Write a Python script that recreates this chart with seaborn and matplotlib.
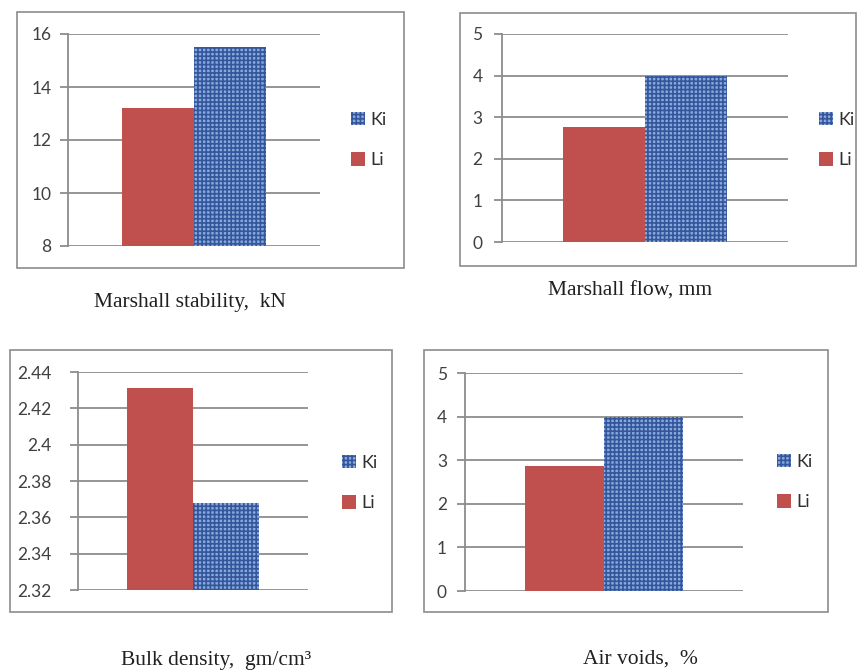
import pandas as pd
import matplotlib.pyplot as plt
import matplotlib.patches as mpatches
import seaborn as sns

sns.set_style("white")
plt.rcParams['font.family'] = ['Lato', 'DejaVu Sans']
plt.rcParams['hatch.linewidth'] = 1.2
plt.rcParams['hatch.color'] = '#34569a'

# data
mixes = ["Li", "Ki"]
stability = [13.2, 15.5]
flow = [2.76, 4.0]
density = [2.431, 2.368]
voids = [2.87, 4.0]

captions = ["Marshall stability,  kN", "Marshall flow, mm",
            "Bulk density,  gm/cm³", "Air voids,  %"]

RED = '#c0504d'
BLUE = '#8aa9de'
HATCH = '++++'

W, H = 857, 670
fig = plt.figure(figsize=(W / 100, H / 100), dpi=100)


def px_box(x0, y0, x1, y1):
    # pixel box (top-left origin) -> figure fraction rect
    return [x0 / W, 1 - y1 / H, (x1 - x0) / W, (y1 - y0) / H]


panels = [
    # axes box, frame box, values, ylim, ticks, tick labels, label pad, legend pos, caption pos
    (px_box(68, 34, 320, 246), (17, 12, 404, 268), stability, (8, 16), [8, 10, 12, 14, 16],
     ["8", "10", "12", "14", "16"], 6, (351, 140), (190, 302)),
    (px_box(502, 34, 788, 242), (460, 13, 856, 266), flow, (0, 5), [0, 1, 2, 3, 4, 5],
     ["0", "1", "2", "3", "4", "5"], 8, (819, 140), (630, 291)),
    (px_box(78, 372, 308, 590), (10, 350, 392, 612), density, (2.32, 2.44),
     [2.32, 2.34, 2.36, 2.38, 2.40, 2.42, 2.44],
     ["2.32", "2.34", "2.36", "2.38", "2.4", "2.42", "2.44"], 13, (342, 483), (216, 661)),
    (px_box(465, 373, 743, 591), (424, 350, 828, 612), voids, (0, 5), [0, 1, 2, 3, 4, 5],
     ["0", "1", "2", "3", "4", "5"], 7, (777, 482), (640, 659)),
]

for i, (rect, frame, vals, ylim, ticks, tlabels, pad, leg, cap) in enumerate(panels):
    # outer frame
    fx0, fy0, fx1, fy1 = frame
    fig.patches.append(mpatches.Rectangle((fx0 / W, 1 - fy1 / H), (fx1 - fx0) / W, (fy1 - fy0) / H,
                                          transform=fig.transFigure, fill=False,
                                          edgecolor='#8c8c8c', lw=1.2))
    ax = fig.add_axes(rect)
    df = pd.DataFrame({"x": [""] * 2, "value": vals, "mix": mixes})
    sns.barplot(data=df, x="x", y="value", hue="mix", hue_order=mixes,
                palette=[RED, BLUE], width=0.57, saturation=1,
                legend=False, ax=ax, zorder=3)
    # texture on Ki bar
    ki_bar = ax.patches[1]
    ki_bar.set_hatch(HATCH)
    ki_bar.set_edgecolor('#34569a')
    ki_bar.set_linewidth(0)
    ax.patches[0].set_linewidth(0)

    ax.set_xlim(-0.5, 0.5)
    ax.set_ylim(*ylim)
    ax.set_yticks(ticks)
    ax.set_yticklabels(tlabels, fontsize=12.5, color='#404040')
    ax.set_xticks([])
    ax.set_xlabel("")
    ax.set_ylabel("")
    ax.yaxis.grid(True, color='#8c8c8c', lw=1.3, zorder=0)
    ax.set_axisbelow(True)
    ax.tick_params(axis='y', length=6, width=1.3, color='#8c8c8c', direction='out', pad=pad, left=True)
    for s in ['top', 'right', 'bottom']:
        ax.spines[s].set_visible(False)
    ax.spines['left'].set_color('#8c8c8c')
    ax.spines['left'].set_linewidth(1.3)

    # legend: Ki above Li
    h_ki = mpatches.Patch(facecolor=BLUE, hatch=HATCH, edgecolor='#34569a', lw=0)
    h_li = mpatches.Patch(facecolor=RED, lw=0)
    ax.legend([h_ki, h_li], ["Ki", "Li"], loc='center left',
              bbox_to_anchor=(leg[0] / W, 1 - leg[1] / H), bbox_transform=fig.transFigure,
              frameon=False, borderpad=0, borderaxespad=0,
              handlelength=0.75, handleheight=0.75, handletextpad=0.3,
              labelspacing=1.35, fontsize=13, labelcolor='#303030')

    fig.text(cap[0] / W, 1 - cap[1] / H, captions[i], ha='center', va='center',
             family='Liberation Serif', fontsize=15.5, color='#202020')

plt.savefig("out.png", dpi=100)
plt.close()
